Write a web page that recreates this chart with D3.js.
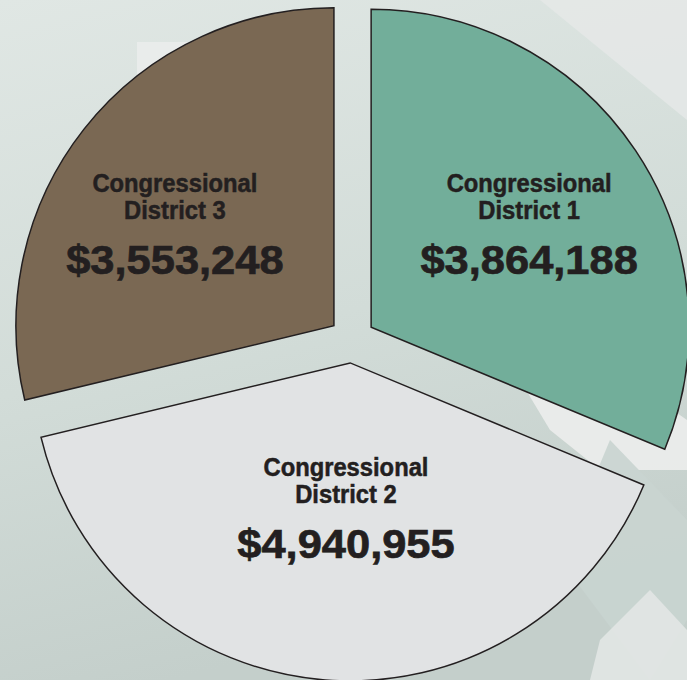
<!DOCTYPE html>
<html>
<head>
<meta charset="utf-8">
<script src="https://cdn.jsdelivr.net/npm/d3@7"></script>
<style>
  body { margin: 0; overflow: hidden; }
  svg { display: block; }
</style>
</head>
<body>
<div class="chart"></div>
<script>
// values
const districts = ["Congressional District 1", "Congressional District 2", "Congressional District 3"]
const amounts = [3864188, 4940955, 3553248]
const colors = ["#72ae9a", "#e1e3e4", "#7a6853"]

const width = 687, height = 680
const cx = 352, cy = 340
const radius = 318
const explode = 23

const svg = d3.select(".chart").append("svg")
  .attr("width", width)
  .attr("height", height)

const defs = svg.append("defs")
const bg = defs.append("linearGradient")
  .attr("id", "bg")
  .attr("x1", 0).attr("y1", 0).attr("x2", 0.25).attr("y2", 1)
bg.append("stop").attr("offset", "0%").attr("stop-color", "#e0e7e4")
bg.append("stop").attr("offset", "55%").attr("stop-color", "#d2dcd8")
bg.append("stop").attr("offset", "100%").attr("stop-color", "#c4cfcb")

svg.append("rect")
  .attr("width", width)
  .attr("height", height)
  .attr("fill", "url(#bg)")

// faint background shapes
const shapes = [
  {pts: [[137, 42], [300, 42], [300, 330], [137, 330]], fill: "#eef0f0", op: 0.7},
  {pts: [[540, 0], [687, 0], [687, 120]], fill: "#e4e8e7", op: 0.9},
  {pts: [[520, 380], [630, 380], [687, 420], [687, 470], [600, 470], [550, 430]], fill: "#ecedec", op: 0.9},
  {pts: [[610, 440], [687, 520], [687, 620], [650, 680], [560, 560]], fill: "#c9d4d0", op: 0.9},
  {pts: [[600, 640], [650, 590], [687, 630], [687, 680], [590, 680]], fill: "#e2e5e4", op: 0.9}
]
svg.append("g")
  .selectAll("polygon")
  .data(shapes)
  .enter()
  .append("polygon")
  .attr("points", d => d.pts.map(p => p.join(",")).join(" "))
  .attr("fill", d => d.fill)
  .attr("opacity", d => d.op)

const pie = d3.pie().sort(null).value(d => d)
const arcs = pie(amounts)

const arc = d3.arc().innerRadius(0).outerRadius(radius)

function offset(d) {
  const a = (d.startAngle + d.endAngle) / 2
  return [Math.sin(a) * explode, -Math.cos(a) * explode]
}

const g = svg.append("g")
  .attr("transform", `translate(${cx},${cy})`)

g.selectAll("path")
  .data(arcs)
  .enter()
  .append("path")
  .attr("d", arc)
  .attr("transform", d => `translate(${offset(d)})`)
  .attr("fill", (d, i) => colors[i])
  .attr("stroke", "#231f20")
  .attr("stroke-width", 1.5)
  .attr("stroke-linejoin", "miter")

// label spot: upper slices share one row, the big one sits under the middle
function labelPos(d) {
  const a = (d.startAngle + d.endAngle) / 2
  if (Math.cos(a) > 0) {
    return [Math.sign(Math.sin(a)) * radius * 0.557, -radius * 0.366]
  }
  return [Math.sin(a) * radius * 0.24, -Math.cos(a) * radius * 0.53]
}

const fmt = d3.format("$,")

const labels = g.selectAll(".label")
  .data(arcs)
  .enter()
  .append("g")
  .attr("class", "label")
  .attr("transform", d => `translate(${labelPos(d)})`)
  .attr("font-family", "'Liberation Sans', Arial, sans-serif")
  .attr("font-weight", "bold")
  .attr("fill", "#231f20")
  .attr("stroke", "#231f20")
  .attr("text-anchor", "middle")

labels.append("text")
  .attr("transform", "translate(0,-32) scale(0.95,1.04)")
  .attr("font-size", 25)
  .attr("stroke-width", 0.5)
  .text((d, i) => districts[i].split(" ")[0])

labels.append("text")
  .attr("transform", "translate(0,-5) scale(0.95,1.04)")
  .attr("font-size", 25)
  .attr("stroke-width", 0.5)
  .text((d, i) => districts[i].split(" ").slice(1).join(" "))

labels.append("text")
  .attr("transform", "translate(0,50) scale(1.06,1)")
  .attr("font-size", 41)
  .attr("stroke-width", 0.7)
  .text(d => fmt(d.data))
</script>
</body>
</html>
